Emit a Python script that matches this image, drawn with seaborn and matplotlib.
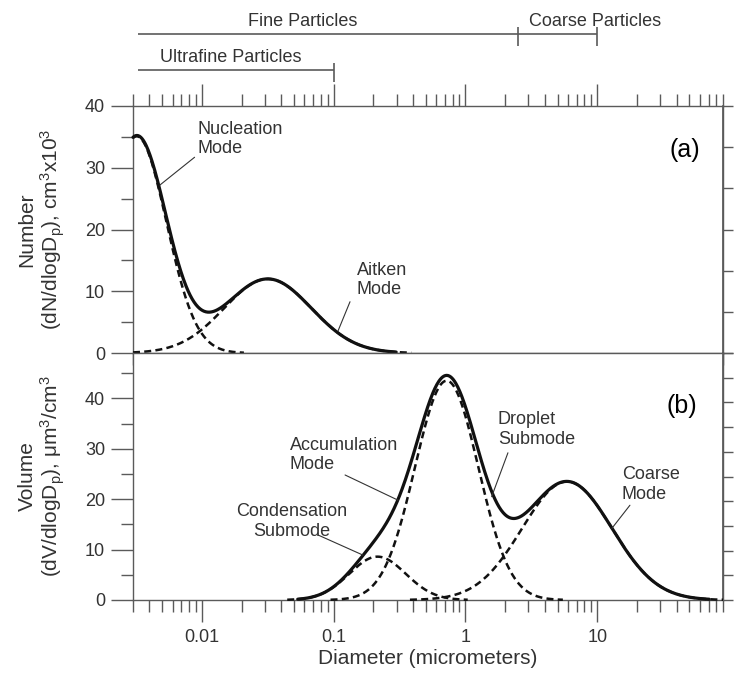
import numpy as np
import pandas as pd
import matplotlib
matplotlib.use("Agg")
import matplotlib.pyplot as plt
import seaborn as sns
from matplotlib.ticker import FixedLocator, LogLocator, NullFormatter, FixedFormatter

# Lognormal modes of the number distribution, panel (a)
number_modes = ["Nucleation", "Aitken"]
number_median_um = [0.0032, 0.0316]
number_peak = [35.1, 12.0]
number_log_sd = [0.225, 0.33]

# Lognormal modes of the volume distribution, panel (b)
volume_modes = ["Condensation", "Droplet", "Coarse"]
volume_median_um = [0.215, 0.72, 5.9]
volume_peak = [8.6, 43.5, 23.5]
volume_log_sd = [0.214, 0.24, 0.34]

# Size classes shown above the plots
size_classes = ["Fine Particles", "Coarse Particles", "Ultrafine Particles"]
class_lower_um = [0.0033, 2.5, 0.0033]
class_upper_um = [2.5, 10.0, 0.1]

x_tick_values = [0.01, 0.1, 1, 10]
x_tick_labels = ["0.01", "0.1", "1", "10"]
y_tick_values = [0, 10, 20, 30, 40]
y_tick_labels = ["0", "10", "20", "30", "40"]

sns.set_theme(style="white")
plt.rcParams["font.family"] = ["Liberation Sans", "DejaVu Sans"]
plt.rcParams["mathtext.default"] = "regular"
plt.rcParams["mathtext.fontset"] = "custom"
plt.rcParams["mathtext.rm"] = "Liberation Sans"

INK = "#111111"
TXT = "#333333"
AX = "#5a5a5a"
FS = 13

W, H = 734, 674
fig = plt.figure(figsize=(W / 100, H / 100), dpi=100)
fig.patch.set_facecolor("white")


def rect(l, t, r, b):
    return [l / W, 1 - b / H, (r - l) / W, (b - t) / H]


ax_n = fig.add_axes(rect(133, 106, 723, 353))
ax_v = fig.add_axes(rect(133, 353, 723, 600))
ax_bar = fig.add_axes(rect(133, 0, 723, 106))

XMIN, XMAX = 0.003, 90
diam = np.logspace(np.log10(XMIN), np.log10(XMAX), 900)


def mode_curve(median, peak, sd):
    return peak * np.exp(-0.5 * ((np.log10(diam) - np.log10(median)) / sd) ** 2)


def draw(ax, values, dashed):
    df = pd.DataFrame({"diameter": diam, "value": values})
    if dashed:
        df = df[df["value"] >= 0.05]
        sns.lineplot(data=df, x="diameter", y="value", ax=ax, color=INK,
                     linewidth=1.8, linestyle=(0, (2.8, 1.7)), errorbar=None,
                     clip_on=False, zorder=4)
    else:
        df = df[df["value"] >= 0.15]
        sns.lineplot(data=df, x="diameter", y="value", ax=ax, color=INK,
                     linewidth=2.3, errorbar=None, clip_on=False, zorder=3)


# Panel (a): number distribution
n_curves = [mode_curve(m, p, s) for m, p, s in
            zip(number_median_um, number_peak, number_log_sd)]
draw(ax_n, np.sum(n_curves, axis=0), dashed=False)
for c in n_curves:
    draw(ax_n, c, dashed=True)

# Panel (b): volume distribution
v_curves = [mode_curve(m, p, s) for m, p, s in
            zip(volume_median_um, volume_peak, volume_log_sd)]
draw(ax_v, np.sum(v_curves, axis=0), dashed=False)
for c in v_curves:
    draw(ax_v, c, dashed=True)

ax_n.set_ylim(0, 40)
ax_v.set_ylim(0, 49)

for ax in (ax_n, ax_v):
    ax.set_xscale("log")
    ax.set_xlim(XMIN, XMAX)
    ax.xaxis.set_major_locator(FixedLocator(x_tick_values))
    ax.xaxis.set_major_formatter(FixedFormatter(x_tick_labels))
    ax.xaxis.set_minor_locator(LogLocator(base=10, subs=np.arange(2, 10), numticks=30))
    ax.xaxis.set_minor_formatter(NullFormatter())
    ax.yaxis.set_major_locator(FixedLocator(y_tick_values))
    ax.yaxis.set_major_formatter(FixedFormatter(y_tick_labels))
    ax.tick_params(which="major", direction="out", length=16, width=1.0,
                   color=AX, labelsize=FS, labelcolor=TXT, pad=4)
    ax.tick_params(which="minor", direction="out", length=8.5, width=1.0, color=AX)
    ax.tick_params(axis="y", which="both", left=True, right=False)
    for sp in ax.spines.values():
        sp.set_color(AX)
        sp.set_linewidth(1.0)
    ax.set_facecolor("white")
    ax.set_xlabel("")
    ax.set_ylabel("")

ax_n.yaxis.set_minor_locator(FixedLocator([5, 15, 25, 35]))
ax_v.yaxis.set_minor_locator(FixedLocator([5, 15, 25, 35, 45]))
ax_n.tick_params(axis="x", which="both", top=True, bottom=True,
                 labelbottom=False, labeltop=False)
ax_v.tick_params(axis="x", which="both", top=False, bottom=True)
ax_v.tick_params(axis="x", which="major", pad=5)

# short ticks on the right-hand spines
for ax, top, n in ((ax_n, 40, 6), (ax_v, 49, 10)):
    sec = ax.secondary_yaxis("right")
    sec.set_yticks(np.linspace(0, top, n + 1))
    sec.set_yticklabels([])
    sec.tick_params(direction="out", length=7, width=1.0, color=AX)
    sec.spines["right"].set_color(AX)

ax_v.set_xlabel("Diameter (micrometers)", fontsize=15, color=TXT, labelpad=2)

ax_n.set_ylabel("Number\n(dN/dlogD$_p$), cm$^3$x10$^3$", fontsize=15,
                color=TXT, linespacing=1.1)
ax_v.set_ylabel("Volume\n(dV/dlogD$_p$), \u03bcm$^3$/cm$^3$", fontsize=15,
                color=TXT, linespacing=1.1)
ax_n.yaxis.set_label_coords(-0.112, 0.5)
ax_v.yaxis.set_label_coords(-0.112, 0.5)

ax_n.text(0.936, 0.822, "(a)", transform=ax_n.transAxes, fontsize=18,
          color="black", ha="center", va="center")
ax_v.text(0.931, 0.785, "(b)", transform=ax_v.transAxes, fontsize=18,
          color="black", ha="center", va="center")

lead = dict(arrowstyle="-", color=TXT, lw=0.8, shrinkA=0, shrinkB=0)


def label(ax, text, at, start, end, ha="left"):
    ax.text(at[0], at[1], text, fontsize=FS, color=TXT, ha=ha, va="top",
            linespacing=1.2, zorder=6)
    ax.annotate("", xy=end, xytext=start, arrowprops=lead, zorder=6)


label(ax_n, "Nucleation\nMode", (0.0092, 37.6), (0.0088, 31.7), (0.0048, 27.2))
label(ax_n, "Aitken\nMode", (0.150, 14.8), (0.133, 8.3), (0.108, 3.6))
label(ax_v, "Accumulation\nMode", (0.0466, 32.4), (0.122, 24.8), (0.308, 19.8))
label(ax_v, "Condensation\nSubmode", (0.048, 19.2), (0.076, 12.9), (0.167, 8.9),
      ha="center")
label(ax_v, "Droplet\nSubmode", (1.76, 37.4), (2.1, 29.2), (1.58, 20.5))
label(ax_v, "Coarse\nMode", (15.4, 26.5), (17.7, 18.8), (12.9, 14.2))

# Size-class bars above panel (a), y measured downward in pixels
ax_bar.set_xscale("log")
ax_bar.set_xlim(XMIN, XMAX)
ax_bar.set_ylim(106, 0)
ax_bar.axis("off")
bar_rows = [34, 34, 70]
text_rows = [21, 21, 57]
for name, lo, hi, yr, yt in zip(size_classes, class_lower_um, class_upper_um,
                                bar_rows, text_rows):
    ax_bar.hlines(yr, lo, hi, color=AX, lw=1.2)
    ax_bar.vlines(hi, yr - 7, yr + 12, color=AX, lw=1.2)
    if name.startswith("Coarse"):
        ax_bar.text(lo * 1.22, yt, name, fontsize=FS, color=TXT, ha="left", va="center")
    elif name.startswith("Fine"):
        ax_bar.text(0.058, yt, name, fontsize=FS, color=TXT, ha="center", va="center")
    else:
        ax_bar.text(0.0166, yt, name, fontsize=FS, color=TXT, ha="center", va="center")

fig.savefig("out.png", dpi=100)
